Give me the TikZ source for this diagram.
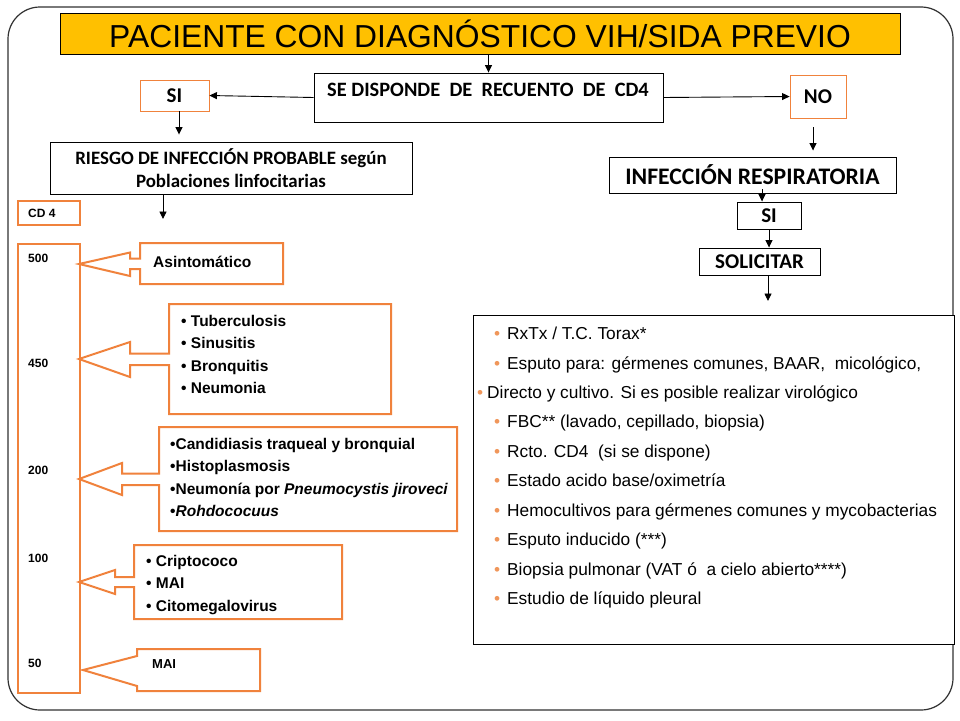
\documentclass[tikz,border=0pt]{standalone}
\usepackage{fontspec}
\setmainfont{Liberation Sans}
\newfontfamily\calibri{Carlito}
\usetikzlibrary{arrows.meta,calc}
\definecolor{titlefill}{RGB}{255,192,0}
\definecolor{orng}{RGB}{240,130,60}
\definecolor{bulorng}{RGB}{240,150,90}
\definecolor{framec}{RGB}{50,50,50}
\begin{document}
\begin{tikzpicture}[x=1pt,y=-1pt,
  box/.style={draw=black, line width=0.9pt, fill=white, inner sep=0pt},
  obox/.style={draw=orng, line width=0.9pt, fill=white, inner sep=0pt},
  scalebar/.style={draw=orng, line width=2pt, inner sep=0pt},
  callout/.style={draw=orng, line width=2pt, fill=white, line join=miter},
  arr/.style={-{Triangle[length=7.5pt,width=7pt]}, line width=0.9pt},
  cb/.style={font=\calibri\bfseries\fontsize{21}{24}\selectfont},
  ab/.style={font=\bfseries\fontsize{15.5}{22.5}\selectfont, align=left, inner sep=0pt},
  num/.style={font=\bfseries\fontsize{12}{14}\selectfont, inner sep=0pt, anchor=west},
  li/.style={font=\fontsize{17.3}{20}\selectfont, inner sep=0pt, anchor=base west},
  bul/.style={font=\fontsize{17.3}{20}\selectfont, inner sep=0pt, anchor=base west, text=bulorng}
]
\useasboundingbox (0,0) rectangle (960,720);
\fill[white] (0,0) rectangle (960,720);
% frame
\draw[framec, line width=1.2pt, rounded corners=32pt] (8,7) rectangle (953,710);

% title
\node[box, fill=titlefill, minimum width=840pt, minimum height=41pt,
      font=\fontsize{31.8}{36}\selectfont] (title) at (480,33.5) {PACIENTE CON DIAGNÓSTICO VIH/SIDA PREVIO};

% top decision
\node[box, minimum width=349pt, minimum height=49pt] (se) at (488.5,97.5) {};
\node[inner sep=0pt, font=\calibri\bfseries\fontsize{20.4}{24}\selectfont] (setxt) at (488,90) {SE DISPONDE\ \ DE\ \ RECUENTO\ \ DE\ \ CD4};
\node[obox, cb, minimum width=69pt, minimum height=31pt] (siL) at (174.5,95.5) {SI};
\node[obox, cb, minimum width=56pt, minimum height=43pt] (no) at (818,96.5) {NO};

% left branch
\node[box, minimum width=362pt, minimum height=52pt, align=center,
      font=\calibri\bfseries\fontsize{18.9}{23}\selectfont] (riesgo) at (231,168)
      {RIESGO DE INFECCIÓN PROBABLE según\\Poblaciones linfocitarias};

% right branch
\node[box, minimum width=287pt, minimum height=36pt,
      font=\calibri\bfseries\fontsize{23.7}{26}\selectfont] (infr) at (752.5,175) {INFECCIÓN RESPIRATORIA};
\node[box, cb, minimum width=64pt, minimum height=27pt] (siR) at (769,215.5) {SI};
\node[box, cb, minimum width=121pt, minimum height=27pt] (sol) at (759.5,261.5) {SOLICITAR};
\node[box, minimum width=481pt, minimum height=329pt] (list) at (713.5,479.5) {};

% arrows
\draw[arr] (se.north |- title.south) -- (se.north);
\draw[arr] (se.west) -- (siL.east);
\draw[arr] (se.east) -- (no.west);
\draw[arr, shorten >=7pt] ([xshift=4.5pt]siL.south) -- ([xshift=4.5pt]siL.south |- riesgo.north);
\coordinate (rend) at (163,219);
\draw[arr] (rend |- riesgo.south) -- (rend);
\draw[arr, shorten >=6pt] ([xshift=-5pt,yshift=-9pt]no.south) -- ([xshift=-5pt]no.south |- infr.north);
\draw[arr] ([xshift=-7pt,yshift=4pt]siR.north |- infr.south) -- ([xshift=-7pt]siR.north);
\draw[arr] (siR.south) -- (siR.south |- sol.north);
\coordinate (solend) at (768,301);
\draw[arr] (solend |- sol.south) -- (solend);

% CD4 scale
\node[scalebar, minimum width=62pt, minimum height=24pt] (cd4) at (49,213) {};
\node[num] (cd4t) at (28,213) {CD 4};
\node[scalebar, minimum width=62pt, minimum height=449pt] (scale) at (49,468.5) {};
\node[num] (n500) at (28,258) {500};
\node[num] (n450) at (28,363) {450};
\node[num] (n200) at (28,470) {200};
\node[num] (n100) at (28,558) {100};
\node[num] (n50)  at (28,663) {50};

% callouts
\draw[callout] (79,264) -- (130,252.5) -- (130,258.5) -- (140,258.5) -- (140,243) -- (283,243)
  -- (283,284) -- (140,284) -- (140,269) -- (130,269) -- (130,276) -- cycle;
\node[ab, anchor=west] (c1) at (153,261.5) {Asintomático};

\draw[callout] (79,359) -- (130,342) -- (130,353.5) -- (169,353.5) -- (169,304) -- (391,304)
  -- (391,414) -- (169,414) -- (169,365) -- (130,365) -- (130,377) -- cycle;
\node[ab, anchor=north west] (c2) at (181,315) {• Tuberculosis\\• Sinusitis\\• Bronquitis\\• Neumonia};

\draw[callout] (79,479) -- (122,463) -- (122,473.5) -- (159,473.5) -- (159,427) -- (457,427)
  -- (457,531) -- (159,531) -- (159,485) -- (122,485) -- (122,495) -- cycle;
\node[ab, anchor=north west] (c3) at (170,438) {•Candidiasis traqueal y bronquial\\•Histoplasmosis\\•Neumonía por \textit{Pneumocystis jiroveci}\\•\textit{Rohdococuus}};

\draw[callout] (79,582) -- (115,570) -- (115,577) -- (134,577) -- (134,545) -- (342,545)
  -- (342,619) -- (134,619) -- (134,587) -- (115,587) -- (115,594) -- cycle;
\node[ab, anchor=north west] (c4) at (146,555) {• Criptococo\\• MAI\\• Citomegalovirus};

\draw[callout] (83,670) -- (137,656) -- (137,649) -- (260,649) -- (260,691) -- (137,691)
  -- (137,686) -- cycle;
\node[ab, anchor=west, font=\bfseries\fontsize{13}{15}\selectfont] (c5) at (152,664) {MAI};

% list
\foreach \y/\t [count=\i] in {
  339/{RxTx / T.C. Torax*},
  369/{Esputo para: gérmenes comunes, BAAR,\ \ micológico,},
  427/{FBC** (lavado, cepillado, biopsia)},
  457/{Rcto. CD4\ \ (si se dispone)},
  486/{Estado acido base/oximetría},
  516/{Hemocultivos para gérmenes comunes y\ mycobacterias},
  545/{Esputo inducido (***)},
  575/{Biopsia pulmonar (VAT ó\ \ a cielo abierto****)},
  604/{Estudio de líquido pleural}} {
  \node[bul] (b\i) at (494,\y) {•};
  \node[li] (l\i) at (507,\y) {\t};
}
\node[bul] (bD) at (477,398) {•};
\node[li] (lD) at (487,398) {Directo y cultivo. Si es posible realizar virológico};
\end{tikzpicture}
\end{document}
